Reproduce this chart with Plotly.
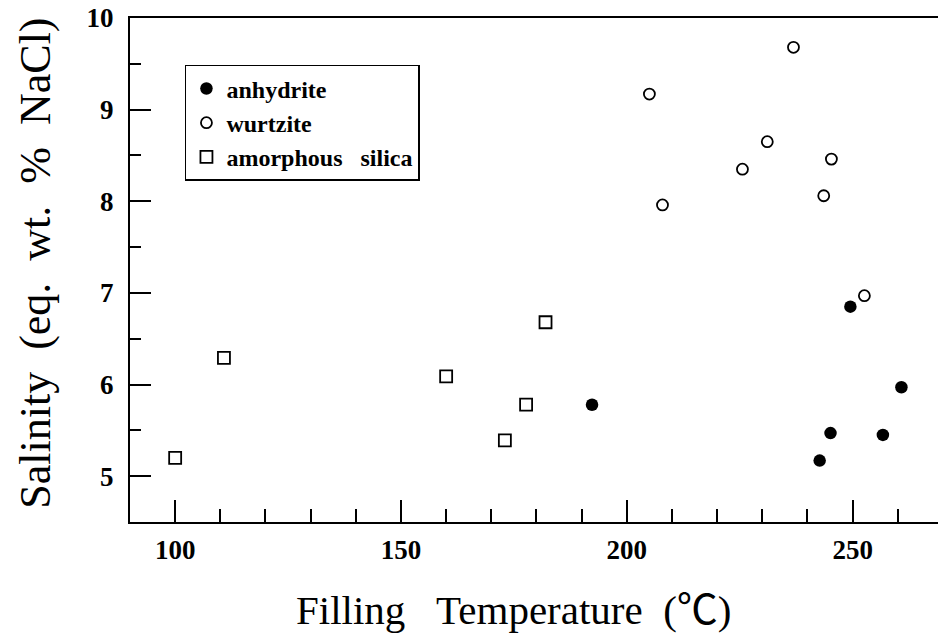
import plotly.graph_objects as go

# ---- data ----
anhydrite_x = [192.3, 242.7, 245.1, 249.5, 256.7, 260.8]
anhydrite_y = [5.78, 5.17, 5.47, 6.85, 5.45, 5.97]

wurtzite_x = [205.0, 207.9, 225.6, 231.1, 236.9, 243.6, 245.3, 252.6]
wurtzite_y = [9.17, 7.96, 8.35, 8.65, 9.68, 8.06, 8.46, 6.97]

silica_x = [100.0, 110.8, 160.0, 173.0, 177.7, 182.0]
silica_y = [5.20, 6.29, 6.09, 5.39, 5.78, 6.68]

series_names = ["anhydrite", "wurtzite", "amorphous\u00a0\u00a0\u00a0silica"]
x_title = "Filling\u00a0\u00a0\u00a0Temperature\u00a0\u00a0(\u2103)"
y_title = "Salinity\u00a0\u00a0(eq.\u00a0\u00a0wt.\u00a0\u00a0%\u00a0\u00a0NaCl)"

SERIF = "Liberation Serif, Times New Roman, Noto Sans CJK SC, serif"

fig = go.Figure()
fig.add_trace(go.Scatter(
    x=anhydrite_x, y=anhydrite_y, mode="markers", name=series_names[0],
    marker=dict(symbol="circle", size=12.5, color="black", line=dict(width=0)),
))
fig.add_trace(go.Scatter(
    x=wurtzite_x, y=wurtzite_y, mode="markers", name=series_names[1],
    marker=dict(symbol="circle-open", size=11, color="black", line=dict(width=1.8, color="black")),
))
fig.add_trace(go.Scatter(
    x=silica_x, y=silica_y, mode="markers", name=series_names[2],
    marker=dict(symbol="square-open", size=12, color="black", line=dict(width=1.8, color="black")),
))

fig.update_layout(
    width=938, height=643,
    margin=dict(l=130, r=0, t=18, b=121),
    paper_bgcolor="white", plot_bgcolor="white",
    font=dict(family=SERIF, color="black"),
    showlegend=True,
    legend=dict(
        x=0.068, y=0.907, xanchor="left", yanchor="top",
        bordercolor="black", borderwidth=1.5, bgcolor="white",
        font=dict(family=SERIF, size=24, color="black", weight="bold"),
        itemsizing="trace", tracegroupgap=0,
    ),
    xaxis=dict(
        range=[90, 268.9], tick0=100, dtick=50,
        showline=True, linecolor="black", linewidth=2, mirror=True,
        ticks="inside", ticklen=22, tickwidth=2, tickcolor="black",
        minor=dict(dtick=10, tick0=100, ticks="inside", ticklen=13, tickwidth=2, tickcolor="black"),
        showgrid=False, zeroline=False,
        tickfont=dict(family=SERIF, size=27, color="black", weight="bold"),
        ticklabelstandoff=3,
    ),
    yaxis=dict(
        range=[4.5, 10], tick0=5, dtick=1,
        showline=True, linecolor="black", linewidth=2, mirror=False,
        ticks="inside", ticklen=21, tickwidth=2, tickcolor="black",
        minor=dict(dtick=0.5, tick0=5, ticks="inside", ticklen=11, tickwidth=2, tickcolor="black"),
        showgrid=False, zeroline=False,
        tickfont=dict(family=SERIF, size=27, color="black", weight="bold"),
        ticklabelstandoff=9,
    ),
    annotations=[
        dict(text=x_title, xref="paper", yref="paper",
             x=(514 - 130) / 808, y=-(611 - 522.5) / 504.5,
             xanchor="center", yanchor="middle", showarrow=False,
             font=dict(family=SERIF, size=41, color="black")),
        dict(text=y_title, xref="paper", yref="paper",
             x=-(130 - 36) / 808, y=(522.5 - 264) / 504.5,
             xanchor="center", yanchor="middle", showarrow=False, textangle=-90,
             font=dict(family=SERIF, size=44, color="black")),
    ],
)

fig.write_html("out.html")
